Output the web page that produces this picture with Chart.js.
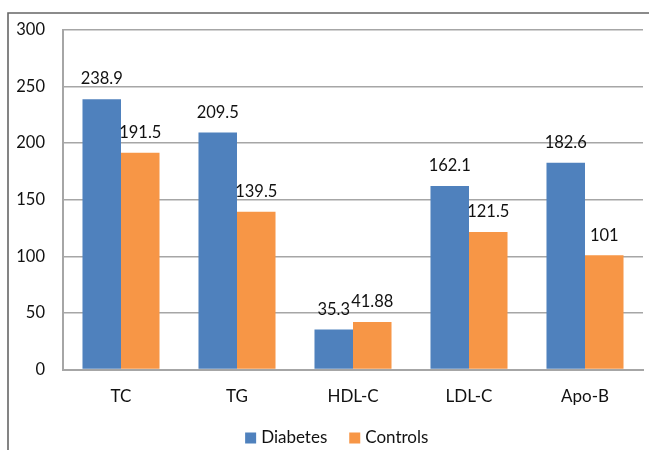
<!DOCTYPE html>
<html>
<head>
<meta charset="utf-8">
<script src="https://cdn.jsdelivr.net/npm/chart.js@4"></script>
<style>
  html, body { margin: 0; padding: 0; background: #ffffff; }
  #wrap { width: 649px; height: 450px; position: relative; }
</style>
</head>
<body>
<div id="wrap"><canvas id="c" width="649" height="450"></canvas></div>
<script>
// Lipid profile means by group
const categories = ['TC', 'TG', 'HDL-C', 'LDL-C', 'Apo-B'];
const diabetes = [238.9, 209.5, 35.3, 162.1, 182.6];
const controls = [191.5, 139.5, 41.88, 121.5, 101];
const diabetesLabels = ['238.9', '209.5', '35.3', '162.1', '182.6'];
const controlsLabels = ['191.5', '139.5', '41.88', '121.5', '101'];
const yTicks = [0, 50, 100, 150, 200, 250, 300];

const FONT = 'Lato, "Open Sans", sans-serif';

// Frame along the top and left edge of the figure
const framePlugin = {
  id: 'frame',
  beforeDraw(chart) {
    const ctx = chart.ctx;
    ctx.save();
    ctx.fillStyle = '#ffffff';
    ctx.fillRect(0, 0, chart.width, chart.height);
    ctx.strokeStyle = '#666666';
    ctx.lineWidth = 1.6;
    ctx.beginPath();
    ctx.moveTo(8, chart.height);
    ctx.lineTo(8, 13);
    ctx.lineTo(chart.width, 13);
    ctx.stroke();
    ctx.restore();
  }
};

// Value labels above each bar
const valueLabels = {
  id: 'valueLabels',
  afterDatasetsDraw(chart) {
    const ctx = chart.ctx;
    const texts = [diabetesLabels, controlsLabels];
    ctx.save();
    ctx.font = '16.5px ' + FONT;
    ctx.fillStyle = '#111111';
    ctx.textAlign = 'center';
    ctx.textBaseline = 'middle';
    chart.data.datasets.forEach((ds, i) => {
      chart.getDatasetMeta(i).data.forEach((bar, j) => {
        ctx.fillText(texts[i][j], bar.x, bar.y - 20);
      });
    });
    ctx.restore();
  }
};

// Compact legend row under the category labels
const bottomLegend = {
  id: 'bottomLegend',
  afterDraw(chart) {
    const ctx = chart.ctx;
    const box = 11, gapText = 5, gapItem = 22;
    ctx.save();
    ctx.font = '17px ' + FONT;
    ctx.textBaseline = 'middle';
    ctx.textAlign = 'left';
    const items = chart.data.datasets.map(ds => ({
      text: ds.label, color: ds.backgroundColor, w: ctx.measureText(ds.label).width
    }));
    const total = items.reduce((s, it) => s + box + gapText + it.w, 0) + gapItem * (items.length - 1);
    const area = chart.chartArea;
    const cx = area.left + area.width * 0.472;
    const cy = chart.height - 12;
    let x = cx - total / 2;
    items.forEach(it => {
      ctx.fillStyle = it.color;
      ctx.fillRect(x, cy - box / 2, box, box);
      x += box + gapText;
      ctx.fillStyle = '#111111';
      ctx.fillText(it.text, x, cy);
      x += it.w + gapItem;
    });
    ctx.restore();
  }
};

new Chart(document.getElementById('c'), {
  type: 'bar',
  data: {
    labels: categories,
    datasets: [
      { label: 'Diabetes', data: diabetes, backgroundColor: '#4f81bd' },
      { label: 'Controls', data: controls, backgroundColor: '#f79646' }
    ]
  },
  options: {
    responsive: false,
    animation: false,
    devicePixelRatio: 1,
    layout: { padding: { top: 30, left: 8, right: 6, bottom: 30 } },
    datasets: { bar: { categoryPercentage: 0.664, barPercentage: 1.0 } },
    scales: {
      x: {
        grid: { display: false, drawTicks: false },
        border: { display: true, color: '#a6a6a6', width: 2 },
        ticks: { color: '#111111', font: { family: FONT, size: 17 }, padding: 16.5 },
        afterFit(scale) { scale.height = 50.5; }
      },
      y: {
        min: 0,
        max: 300,
        afterBuildTicks(scale) { scale.ticks = yTicks.map(v => ({ value: v })); },
        grid: { color: '#a6a6a6', lineWidth: 1.5, drawTicks: false },
        border: { display: true, color: '#a6a6a6', width: 2 },
        ticks: { color: '#111111', font: { family: FONT, size: 16.5 }, padding: 18 },
        afterFit(scale) { scale.width = 55; }
      }
    },
    plugins: {
      legend: { display: false },
      tooltip: { enabled: false }
    }
  },
  plugins: [framePlugin, valueLabels, bottomLegend]
});
</script>
</body>
</html>
